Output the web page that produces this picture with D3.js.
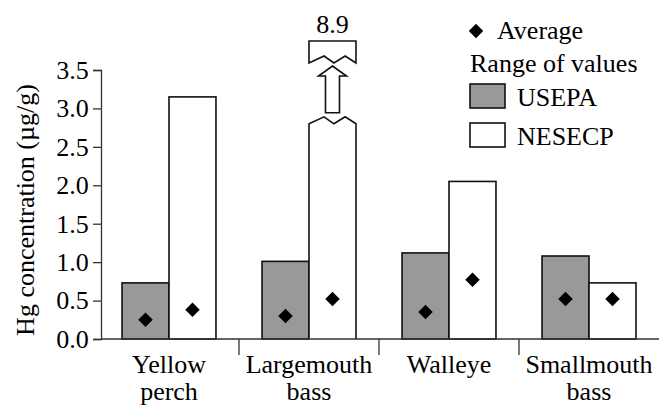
<!DOCTYPE html>
<html>
<head>
<meta charset="utf-8">
<script src="https://cdn.jsdelivr.net/npm/d3@7"></script>
<style>
  html, body { margin: 0; padding: 0; background: #fff; }
  svg { display: block; }
  text { font-family: "Liberation Serif", "Times New Roman", serif; fill: #000; }
</style>
</head>
<body>
<svg id="chart" width="659" height="408"></svg>
<script>
// ---- data ----
const categories = [["Yellow", "perch"], ["Largemouth", "bass"], ["Walleye"], ["Smallmouth", "bass"]];
const seriesNames = ["USEPA", "NESECP"];
const usepaMax = [0.73, 1.01, 1.12, 1.08];
const nesecpMax = [3.15, 8.9, 2.05, 0.73];
const usepaAvg = [0.25, 0.30, 0.35, 0.52];
const nesecpAvg = [0.38, 0.52, 0.77, 0.52];
const yTicks = [0, 0.5, 1, 1.5, 2, 2.5, 3, 3.5];
const yTitle = "Hg concentration (\u00b5g/g)";
const breakAt = 2.8;

const svg = d3.select("#chart");
const FS = 26;
const FF = "Liberation Serif";

const catKeys = categories.map(c => c.join(" "));
const x0 = d3.scaleBand().domain(catKeys).range([99, 659]).paddingInner(0).paddingOuter(0);
const x1 = d3.scaleBand().domain(seriesNames).range([0, x0.bandwidth()]).paddingInner(0).paddingOuter(0.49);
const y = d3.scaleLinear().domain([0, 3.5]).range([339, 70]);

const rows = catKeys.map((k, i) => ({
  key: k, lines: categories[i],
  vals: [
    { s: "USEPA", max: usepaMax[i], avg: usepaAvg[i] },
    { s: "NESECP", max: nesecpMax[i], avg: nesecpAvg[i] }
  ]
}));

const fills = { USEPA: "#999999", NESECP: "#ffffff" };

// Bars
const g = svg.append("g");
rows.forEach(r => {
  r.vals.forEach(v => {
    const xl = x0(r.key) + x1(v.s);
    const w = x1.bandwidth();
    if (v.max <= 3.5) {
      g.append("rect")
        .attr("x", xl).attr("y", y(v.max))
        .attr("width", w).attr("height", y(0) - y(v.max))
        .attr("fill", fills[v.s]).attr("stroke", "#111").attr("stroke-width", 1.6);
    } else {
      // broken bar
      const yb = y(breakAt);
      const pk = 7;
      const path = d3.path();
      path.moveTo(xl, y(0));
      path.lineTo(xl, yb);
      path.lineTo(xl + w * 0.32, yb - pk);
      path.lineTo(xl + w * 0.53, yb);
      path.lineTo(xl + w * 0.77, yb - pk);
      path.lineTo(xl + w, yb);
      path.lineTo(xl + w, y(0));
      g.append("path").attr("d", path.toString())
        .attr("fill", fills[v.s]).attr("stroke", "#111").attr("stroke-width", 1.6);
      // upper piece
      const ub = y(3.5) - 7;
      const ut = y(3.5) - 29;
      const p2 = d3.path();
      p2.moveTo(xl, ub);
      p2.lineTo(xl, ut);
      p2.lineTo(xl + w, ut);
      p2.lineTo(xl + w, ub);
      p2.lineTo(xl + w * 0.77, ub - pk);
      p2.lineTo(xl + w * 0.53, ub);
      p2.lineTo(xl + w * 0.32, ub - pk);
      p2.closePath();
      g.append("path").attr("d", p2.toString())
        .attr("fill", "#fff").attr("stroke", "#111").attr("stroke-width", 1.6);
      // arrow
      const cx = xl + w / 2;
      const tip = ub + 3, headB = tip + 10, shaftB = yb - pk - 4;
      const a = d3.path();
      a.moveTo(cx, tip);
      a.lineTo(cx + 14, headB);
      a.lineTo(cx + 7, headB);
      a.lineTo(cx + 7, shaftB);
      a.lineTo(cx - 7, shaftB);
      a.lineTo(cx - 7, headB);
      a.lineTo(cx - 14, headB);
      a.closePath();
      g.append("path").attr("d", a.toString())
        .attr("fill", "#fff").attr("stroke", "#111").attr("stroke-width", 1.6);
      g.append("text").attr("x", cx).attr("y", ut - 8)
        .attr("text-anchor", "middle").attr("font-size", FS).attr("font-family", FF)
        .text(d3.format(".1f")(v.max));
    }
  });
});

// Average markers
const diamond = d3.symbol().type(d3.symbolSquare).size(105);
rows.forEach(r => {
  r.vals.forEach(v => {
    const cx = x0(r.key) + x1(v.s) + x1.bandwidth() / 2;
    g.append("path").attr("d", diamond())
      .attr("transform", `translate(${cx},${y(v.avg)}) rotate(45)`)
      .attr("fill", "#000");
  });
});

// Y axis
const yAxis = d3.axisLeft(y).tickValues(yTicks).tickFormat(d3.format(".1f")).tickSize(8).tickSizeOuter(8);
const ya = svg.append("g").attr("transform", "translate(101,0)").call(yAxis)
  .attr("font-family", FF).attr("font-size", FS);
ya.selectAll("path, line").attr("stroke", "#333").attr("stroke-width", 1.3);
ya.selectAll("text").attr("font-size", FS).attr("font-family", FF).attr("fill", "#000").attr("dx", "-0.05em");

// X axis line + separators
svg.append("line").attr("x1", 101).attr("x2", 659).attr("y1", y(0)).attr("y2", y(0))
  .attr("stroke", "#333").attr("stroke-width", 1.3);
catKeys.slice(1).forEach(k => {
  svg.append("line").attr("x1", x0(k)).attr("x2", x0(k)).attr("y1", y(0)).attr("y2", y(0) + 16)
    .attr("stroke", "#333").attr("stroke-width", 1.3);
});

// X labels
rows.forEach(r => {
  const cx = x0(r.key) + x0.bandwidth() / 2;
  const t = svg.append("text").attr("text-anchor", "middle").attr("font-size", FS).attr("font-family", FF);
  r.lines.forEach((ln, i) => {
    t.append("tspan").attr("x", cx).attr("y", 373 + i * 27).text(ln);
  });
});

// Y title
svg.append("text").attr("transform", "translate(34,210) rotate(-90)")
  .attr("text-anchor", "middle").attr("font-size", FS).attr("font-family", FF).text(yTitle);

// Legend
const lg = svg.append("g").attr("font-family", FF);
lg.append("path").attr("d", diamond()).attr("transform", "translate(476,31) rotate(45)").attr("fill", "#000");
lg.append("text").attr("x", 497).attr("y", 39).attr("font-size", FS).text("Average");
lg.append("text").attr("x", 470).attr("y", 72).attr("font-size", FS).text("Range of values");
seriesNames.forEach((s, i) => {
  const top = 84 + i * 39;
  lg.append("rect").attr("x", 470).attr("y", top).attr("width", 35).attr("height", 24)
    .attr("fill", fills[s]).attr("stroke", "#111").attr("stroke-width", 1.6);
  lg.append("text").attr("x", 517).attr("y", top + 22).attr("font-size", FS).text(s);
});
</script>
</body>
</html>
